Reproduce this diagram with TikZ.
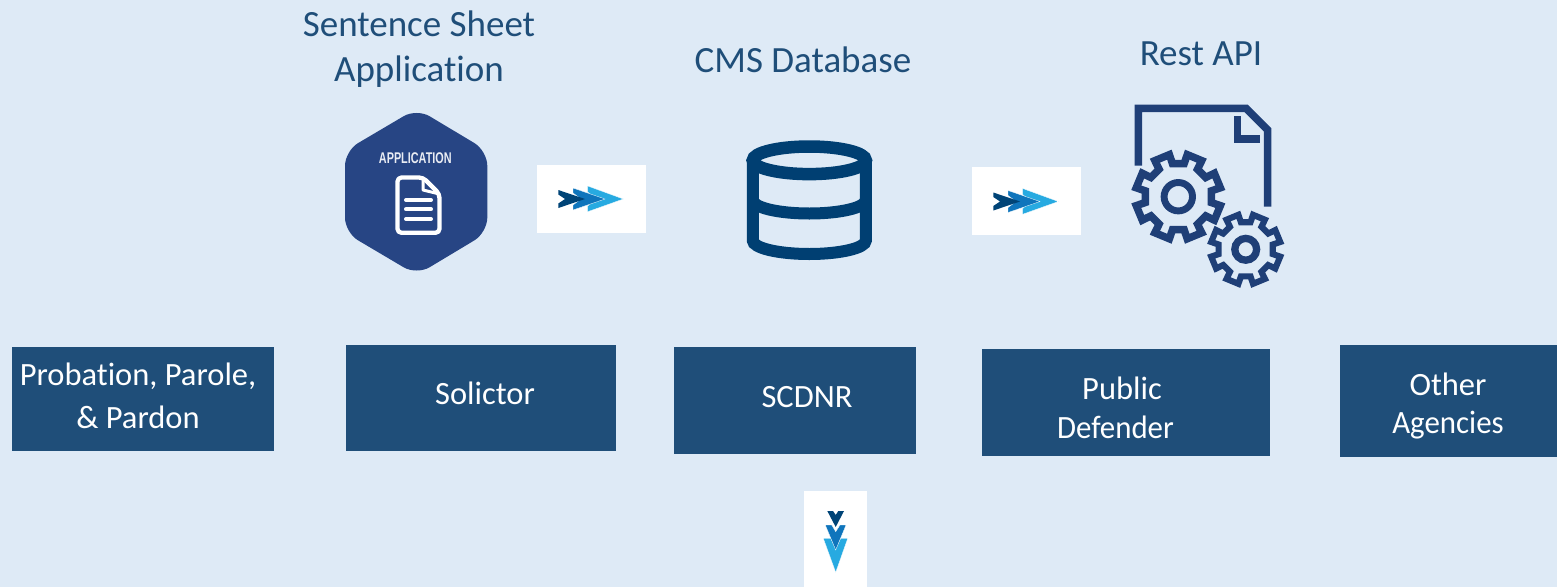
\documentclass[tikz,border=0pt]{standalone}
\usepackage{fontspec}
\setmainfont[Ligatures=NoCommon]{Carlito}
\newfontfamily\badgefont{Liberation Sans}
\usetikzlibrary{positioning,calc}
\definecolor{pagebg}{HTML}{DEEAF6}
\definecolor{boxblue}{HTML}{1F4E79}
\definecolor{hexblue}{HTML}{274584}
\definecolor{dbblue}{HTML}{003F72}
\definecolor{gearblue}{HTML}{1F3F77}
\definecolor{chevdark}{HTML}{004477}
\definecolor{chevmid}{HTML}{0F75BC}
\definecolor{chevlight}{HTML}{27AAE1}
\newcommand{\gearpath}[3]{% centre x, centre y, scale
  \draw[gearblue,line width=#3*7.5pt,miter limit=3]
    \foreach \k in {0,...,7} {
      \ifnum\k=0 ($(#1,#2)+(22.5+45*\k-12.5:#3*33.5)$) \else -- ($(#1,#2)+(22.5+45*\k-12.5:#3*33.5)$) \fi
      -- ($(#1,#2)+(22.5+45*\k-10.5:#3*43)$)
      -- ($(#1,#2)+(22.5+45*\k+10.5:#3*43)$)
      -- ($(#1,#2)+(22.5+45*\k+12.5:#3*33.5)$)
    } -- cycle;
}

\begin{document}
\begin{tikzpicture}[x=1pt,y=-1pt,
    title/.style={text=boxblue,font=\fontsize{37}{45}\selectfont,align=center,inner sep=0pt},
    agency/.style={fill=boxblue,inner sep=0pt},
    agencytext/.style={text=white,font=\fontsize{32.5}{39}\selectfont,inner sep=0pt},
    patch/.style={fill=white,inner sep=0pt}]
  \useasboundingbox (0,0) rectangle (1557,587);
  \fill[pagebg] (0,0) rectangle (1557,587);

  % titles
  \node[title] (sheettitle) at (419,49) {Sentence Sheet\\Application};
  \node[title] (cmstitle) at (803,60) {CMS Database};
  \node[title] (resttitle) at (1201,54) {Rest API};

  % agency boxes
  \node[agency,minimum width=262pt,minimum height=104pt] (probation) at (143,399) {};
  \node[agency,minimum width=270pt,minimum height=106pt] (solictor) at (481,398) {};
  \node[agency,minimum width=242pt,minimum height=107pt] (scdnr) at (795,400.5) {};
  \node[agency,minimum width=288pt,minimum height=107pt] (defender) at (1126,402.5) {};
  \node[agency,minimum width=217pt,minimum height=112pt] (others) at (1448.5,401) {};
  \node[agencytext] (probationa) at (138,376) {Probation, Parole,};
  \node[agencytext] (probationb) at (138,417) {\& Pardon};
  \node[agencytext] (solictortext) at (485,393) {Solictor};
  \node[agencytext] (scdnrtext) at (807,397) {SCDNR};
  \node[agencytext] (defendera) at (1122,388) {Public};
  \node[agencytext] (defenderb) at (1115.5,427) {\scalebox{.95}[1]{Defender}};
  \node[agencytext] (othersa) at (1448,384) {Other};
  \node[agencytext] (othersb) at (1448,425) {\scalebox{.95}[1]{Agencies}};

  % white patches behind the arrows
  \node[patch,minimum width=109pt,minimum height=68pt] (patcha) at (591.5,199) {};
  \node[patch,minimum width=109pt,minimum height=68pt] (patchb) at (1026.5,201) {};
  \node[patch,minimum width=63pt,minimum height=96pt] (patchc) at (835.5,539) {};

  % arrows
  \foreach \dx/\dy in {0/0,435/2.5} {
    \begin{scope}[shift={(\dx,\dy)}]
      \fill[chevlight,draw=white,line width=.3pt] (587.7,186) -- (623.3,199) -- (587.7,211.7) -- (587.7,206) -- (596,199) -- (587.7,192) -- cycle;
      \fill[chevmid,draw=white,line width=.3pt] (573,188) -- (605,199) -- (573,210) -- (573,205) -- (581,199) -- (573,193) -- cycle;
      \fill[chevdark] (558.3,190) -- (585,199) -- (558.3,208) -- (558.3,203.5) -- (565,199) -- (558.3,194.5) -- cycle;
    \end{scope}
  }
  \fill[chevlight,draw=white,line width=.3pt] (823.3,538.3) -- (830.7,538.3) -- (835.7,548.3) -- (840.7,538.3) -- (847.7,538.3) -- (835.7,572.3) -- cycle;
  \fill[chevmid,draw=white,line width=.3pt] (825.3,525) -- (831.7,525) -- (835.7,531.7) -- (840,525) -- (846,525) -- (835.7,550) -- cycle;
  \fill[chevdark] (827.3,511) -- (833,511) -- (835.7,515) -- (838.3,511) -- (844,511) -- (835.7,527) -- cycle;

  % application badge
  \fill[hexblue,rounded corners=15pt] (416.7,108.5) -- (487.3,150.8) -- (487.3,232.6) -- (416.7,275) -- (345,232.6) -- (345,150.8) -- cycle;
  \node[inner sep=0pt,text=white!90!hexblue] (badgetext) at (415.3,157.7)
    {\scalebox{.7}[1]{\badgefont\bfseries\fontsize{15.5}{15.5}\selectfont APPLICATION}};
  \draw[white,line width=4.3pt,line join=round,rounded corners=4pt] (423,177.5) -- (439.5,194) -- (439.5,232.8) -- (397.5,232.8) -- (397.5,177.5) -- cycle;
  \draw[white,line width=3pt,line join=round] (423,177.5) -- (423,190) -- (439.5,194);
  \foreach \y in {200,209.3,219}
    \draw[white,line width=4pt,line cap=round] (406,\y) -- (431,\y);

  % database
  \begin{scope}[dbblue,line width=12pt]
    \draw (752.8,160.3) -- (752.8,240.5) arc[start angle=180,end angle=0,x radius=56.5,y radius=13.5] -- (865.8,160.3);
    \draw[line width=12.5pt] (809.3,160.3) ellipse[x radius=56.5,y radius=13.8];
    \draw (752.8,200) arc[start angle=180,end angle=0,x radius=56.5,y radius=13.5];
  \end{scope}

  % rest api file and gears
  \draw[gearblue,line width=7.5pt] (1138.3,165.7) -- (1138.3,108.3) -- (1246,108.3) -- (1267.7,130) -- (1267.7,206.7);
  \draw[gearblue,line width=7.5pt] (1237.3,116) -- (1237.3,139) -- (1260,139);
  \gearpath{1178.3}{196.7}{1}
  \gearpath{1245.7}{249.3}{.82}
  \draw[gearblue,line width=6.9pt] (1178.3,196.7) circle[radius=14.2];
  \draw[gearblue,line width=7.3pt] (1245.7,249.3) circle[radius=10.9];
\end{tikzpicture}
\end{document}
